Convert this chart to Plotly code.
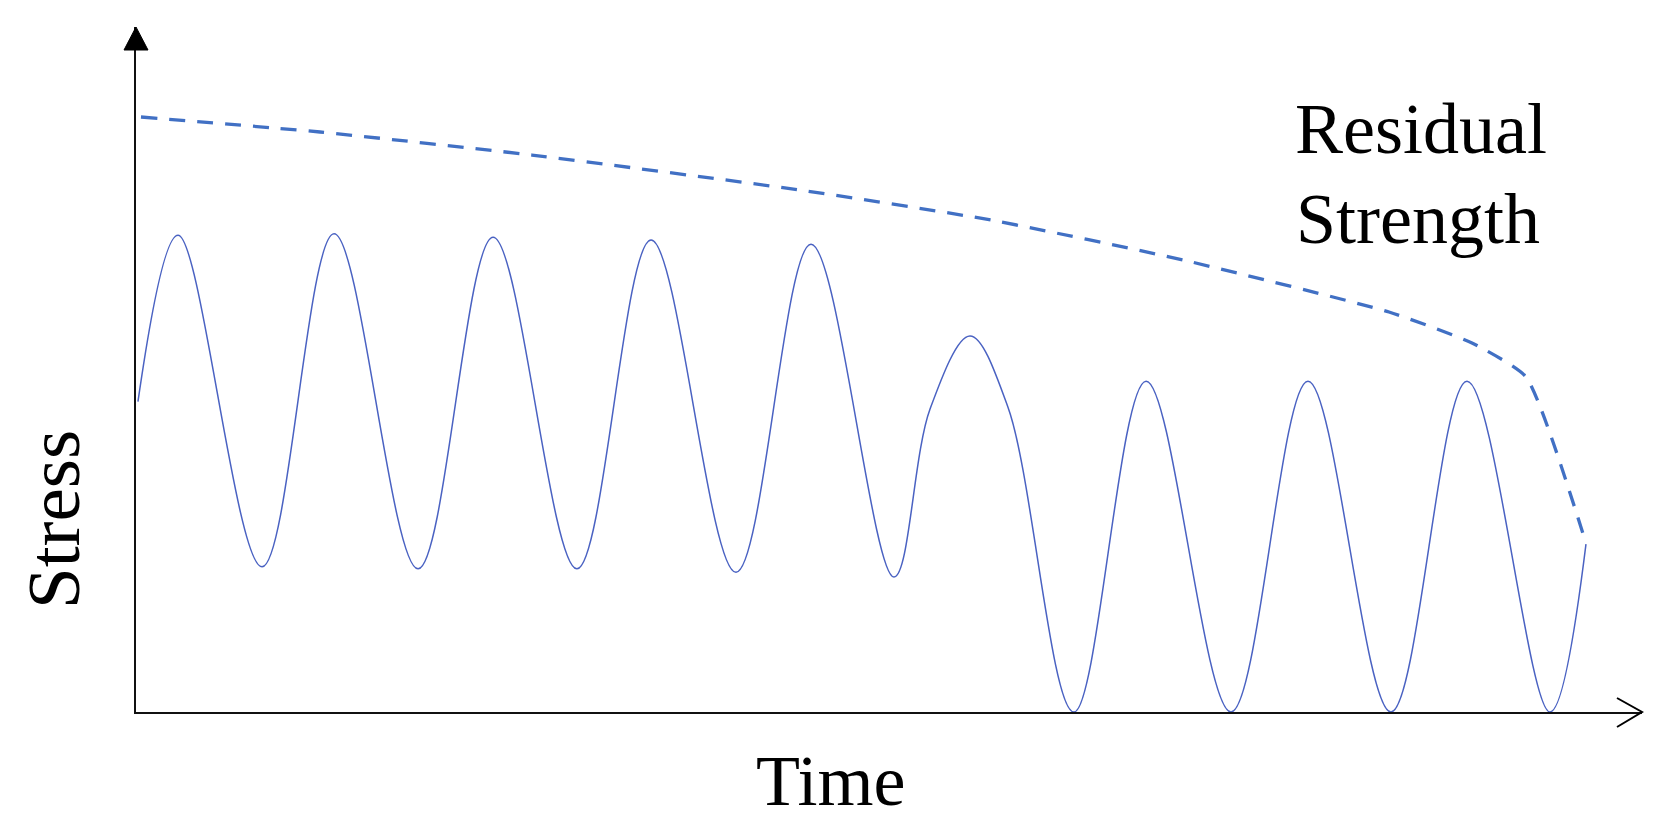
import plotly.graph_objects as go

# ---------------- data ----------------
# Stress history: turning points of the load cycles (time, stress)
stress_time = [0.013, 0.279, 0.837, 1.315, 1.873, 2.371, 2.928, 3.420, 3.984, 4.482,
               5.033, 5.272, 5.538, 5.790, 6.228, 6.707, 7.271, 7.782, 8.333, 8.838,
               9.389, 9.628]
stress_value = [4.53, 6.96, 2.12, 6.98, 2.09, 6.93, 2.09, 6.89, 2.04, 6.83,
                1.97, 4.42, 5.49, 4.45, 0.00, 4.83, 0.00, 4.83, 0.00, 4.83,
                0.00, 2.45]

# Residual strength curve (time, strength)
strength_time = [0.033, 1.222, 2.629, 4.409, 5.677, 6.952, 8.320, 8.871, 9.230, 9.615]
strength_value = [8.686, 8.467, 8.131, 7.620, 7.182, 6.599, 5.839, 5.387, 4.891, 2.555]

x_title = "Time"
y_title = "Stress"
curve_title = ["Residual", "Strength"]

# ---------------- layout geometry (page pixels) ----------------
PAGE_W, PAGE_H = 1667, 835
OFF = 8                      # default body margin of the html page
W, H = PAGE_W - 2 * OFF, PAGE_H - 2 * OFF
PLOT_LEFT, PLOT_RIGHT, PLOT_TOP, PLOT_BOTTOM = 136, 1642, 27, 712
L = PLOT_LEFT - OFF
T = PLOT_TOP - OFF
R = W - (PLOT_RIGHT - OFF)
B = H - (PLOT_BOTTOM - OFF)
PW, PH = PLOT_RIGHT - PLOT_LEFT, PLOT_BOTTOM - PLOT_TOP


def px(x, y):
    """page pixel position -> paper coordinates"""
    return (x - PLOT_LEFT) / PW, (PLOT_BOTTOM - y) / PH


fig = go.Figure()

fig.add_trace(go.Scatter(
    x=stress_time, y=stress_value, mode="lines",
    line=dict(color="#4a62c2", width=1.5, shape="spline", smoothing=1.0),
    showlegend=False, hoverinfo="skip"))

fig.add_trace(go.Scatter(
    x=strength_time, y=strength_value, mode="lines",
    line=dict(color="#4170c4", width=3.3, dash="16px,12px", shape="spline", smoothing=0.5),
    showlegend=False, hoverinfo="skip"))

axis_common = dict(showline=True, linecolor="#111111", linewidth=2, showgrid=False,
                   zeroline=False, ticks="", showticklabels=False, fixedrange=True)
fig.update_xaxes(range=[0, 10], **axis_common)
fig.update_yaxes(range=[0, 10], **axis_common)

# arrow heads
ax, ay = px(136, 27)
bx1, by1 = px(124, 50)
bx2, by2 = px(148, 50)
c1x, c1y = px(1617, 698)
c2x, c2y = px(1642, 712)
c3x, c3y = px(1617, 727)
fig.add_shape(type="path", xref="paper", yref="paper",
              path=f"M {ax},{ay} L {bx1},{by1} L {bx2},{by2} Z",
              fillcolor="#000000", line=dict(color="#000000", width=1))
fig.add_shape(type="path", xref="paper", yref="paper",
              path=f"M {c1x},{c1y} L {c2x},{c2y} L {c3x},{c3y}",
              line=dict(color="#000000", width=2))


def label(text, x, y, size=72, angle=0):
    pxx, pyy = px(x, y)
    fig.add_annotation(text=text, x=pxx, y=pyy, xref="paper", yref="paper",
                       showarrow=False, textangle=angle,
                       font=dict(family="Liberation Serif, Times New Roman, serif",
                                 size=size, color="#000000"),
                       xanchor="center", yanchor="middle")


label(x_title, 830, 781)
label(y_title, 53, 520, size=75, angle=-90)
label(curve_title[0], 1421, 129)
label(curve_title[1], 1418, 219)

fig.update_layout(width=W, height=H,
                  margin=dict(l=L, r=R, t=T, b=B, pad=0),
                  paper_bgcolor="white", plot_bgcolor="white")

fig.write_html("out.html", config={"displayModeBar": False})
